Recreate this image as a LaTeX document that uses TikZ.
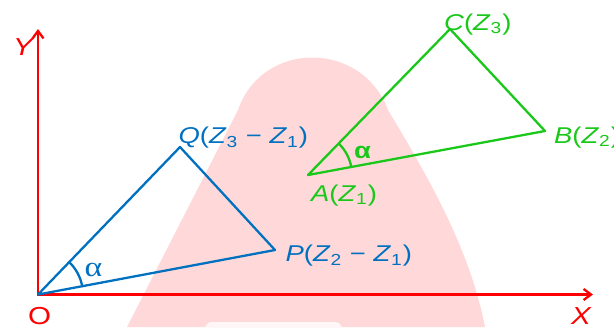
\documentclass[tikz,border=0pt]{standalone}
\usepackage{fontspec}
\setmainfont{Liberation Sans}
\newfontfamily\greekrm{Liberation Serif}
\usetikzlibrary{arrows.meta, angles}
\definecolor{axred}{HTML}{FF0000}
\definecolor{vblue}{HTML}{0070C0}
\definecolor{tgreen}{HTML}{1AC81A}
\definecolor{wmark}{HTML}{FFD9D9}
\newcommand{\stretchlbl}[1]{\scalebox{1.2}[1]{#1}}
\newcommand{\zsub}[1]{\textit{Z}\textsubscript{#1}}
\tikzset{el/.style={line cap=round, line join=round, line width=1.3pt},
  lbl/.style={inner sep=0pt, anchor=base west, font=\fontsize{13}{15}\selectfont},
  axlbl/.style={lbl, axred, font=\fontsize{14}{16}\selectfont},
  barb/.style={{Straight Barb[length=1.5mm, width=2.2mm]}-{Straight Barb[length=1.5mm, width=2.2mm]}}}

\begin{document}
\begin{tikzpicture}[el]
  \useasboundingbox (0,0) rectangle (12.28,6.54);
  % faint backdrop
  \fill[wmark] (2.54,0) -- (4.76,4.34) .. controls (5.24,5.74) and (7.24,5.74) .. (7.76,4.34)
    .. controls (8.60,2.94) and (9.40,1.54) .. (9.70,0) -- cycle;
  \fill[white!80!wmark, rounded corners=4pt] (4.1,-0.2) rectangle (6.84,0.10);
  \coordinate (O) at (0.76,0.65);
  \coordinate (ytip) at (0.76,5.96);
  \coordinate (xtip) at (11.86,0.65);
  \coordinate (P) at (5.50,1.54);
  \coordinate (Q) at (3.60,3.60);
  \coordinate (A) at (6.16,3.04);
  \coordinate (B) at (10.90,3.92);
  \coordinate (C) at (9.00,5.96);
  \draw[axred, barb, line cap=butt, line join=miter] (ytip) -- (O) -- (xtip);
  \node[axlbl] (ylbl) at ([shift={(-0.52,-0.52)}]ytip) {\stretchlbl{\itshape Y}};
  \node[axlbl] (olbl) at ([shift={(-0.22,-0.59)}]O) {\stretchlbl{O}};
  \node[axlbl] (xlbl) at ([shift={(-0.46,-0.59)}]xtip) {\stretchlbl{\itshape X}};
  % vectors from the origin
  \draw[vblue] (O) -- (P) -- (Q) -- cycle;
  \pic[draw=vblue, el, angle radius=0.9cm] {angle=P--O--Q};
  \node[vblue, inner sep=0pt, font=\greekrm\fontsize{16}{18}\selectfont] (alphaO) at ([shift={(1.11,0.49)}]O) {\stretchlbl{α}};
  \node[lbl, vblue] (qlbl) at ([shift={(-0.05,0.07)}]Q) {\stretchlbl{\textit{Q}(\zsub{3} − \zsub{1})}};
  \node[lbl, vblue] (plbl) at ([shift={(0.19,-0.23)}]P) {\stretchlbl{\textit{P}(\zsub{2} − \zsub{1})}};
  % triangle ABC
  \draw[tgreen] (A) -- (B) -- (C) -- cycle;
  \pic[draw=tgreen, el, angle radius=0.88cm] {angle=B--A--C};
  \node[tgreen, inner sep=0pt, font=\bfseries\fontsize{13}{15}\selectfont] (alphaA) at ([shift={(1.09,0.46)}]A) {\stretchlbl{α}};
  \node[lbl, tgreen] (albl) at ([shift={(0.04,-0.52)}]A) {\stretchlbl{\textit{A}(\zsub{1})}};
  \node[lbl, tgreen] (blbl) at ([shift={(0.16,-0.24)}]B) {\stretchlbl{\textit{B}(\zsub{2})}};
  \node[lbl, tgreen] (clbl) at ([shift={(-0.14,-0.02)}]C) {\stretchlbl{\textit{C}(\zsub{3})}};
\end{tikzpicture}
\end{document}
